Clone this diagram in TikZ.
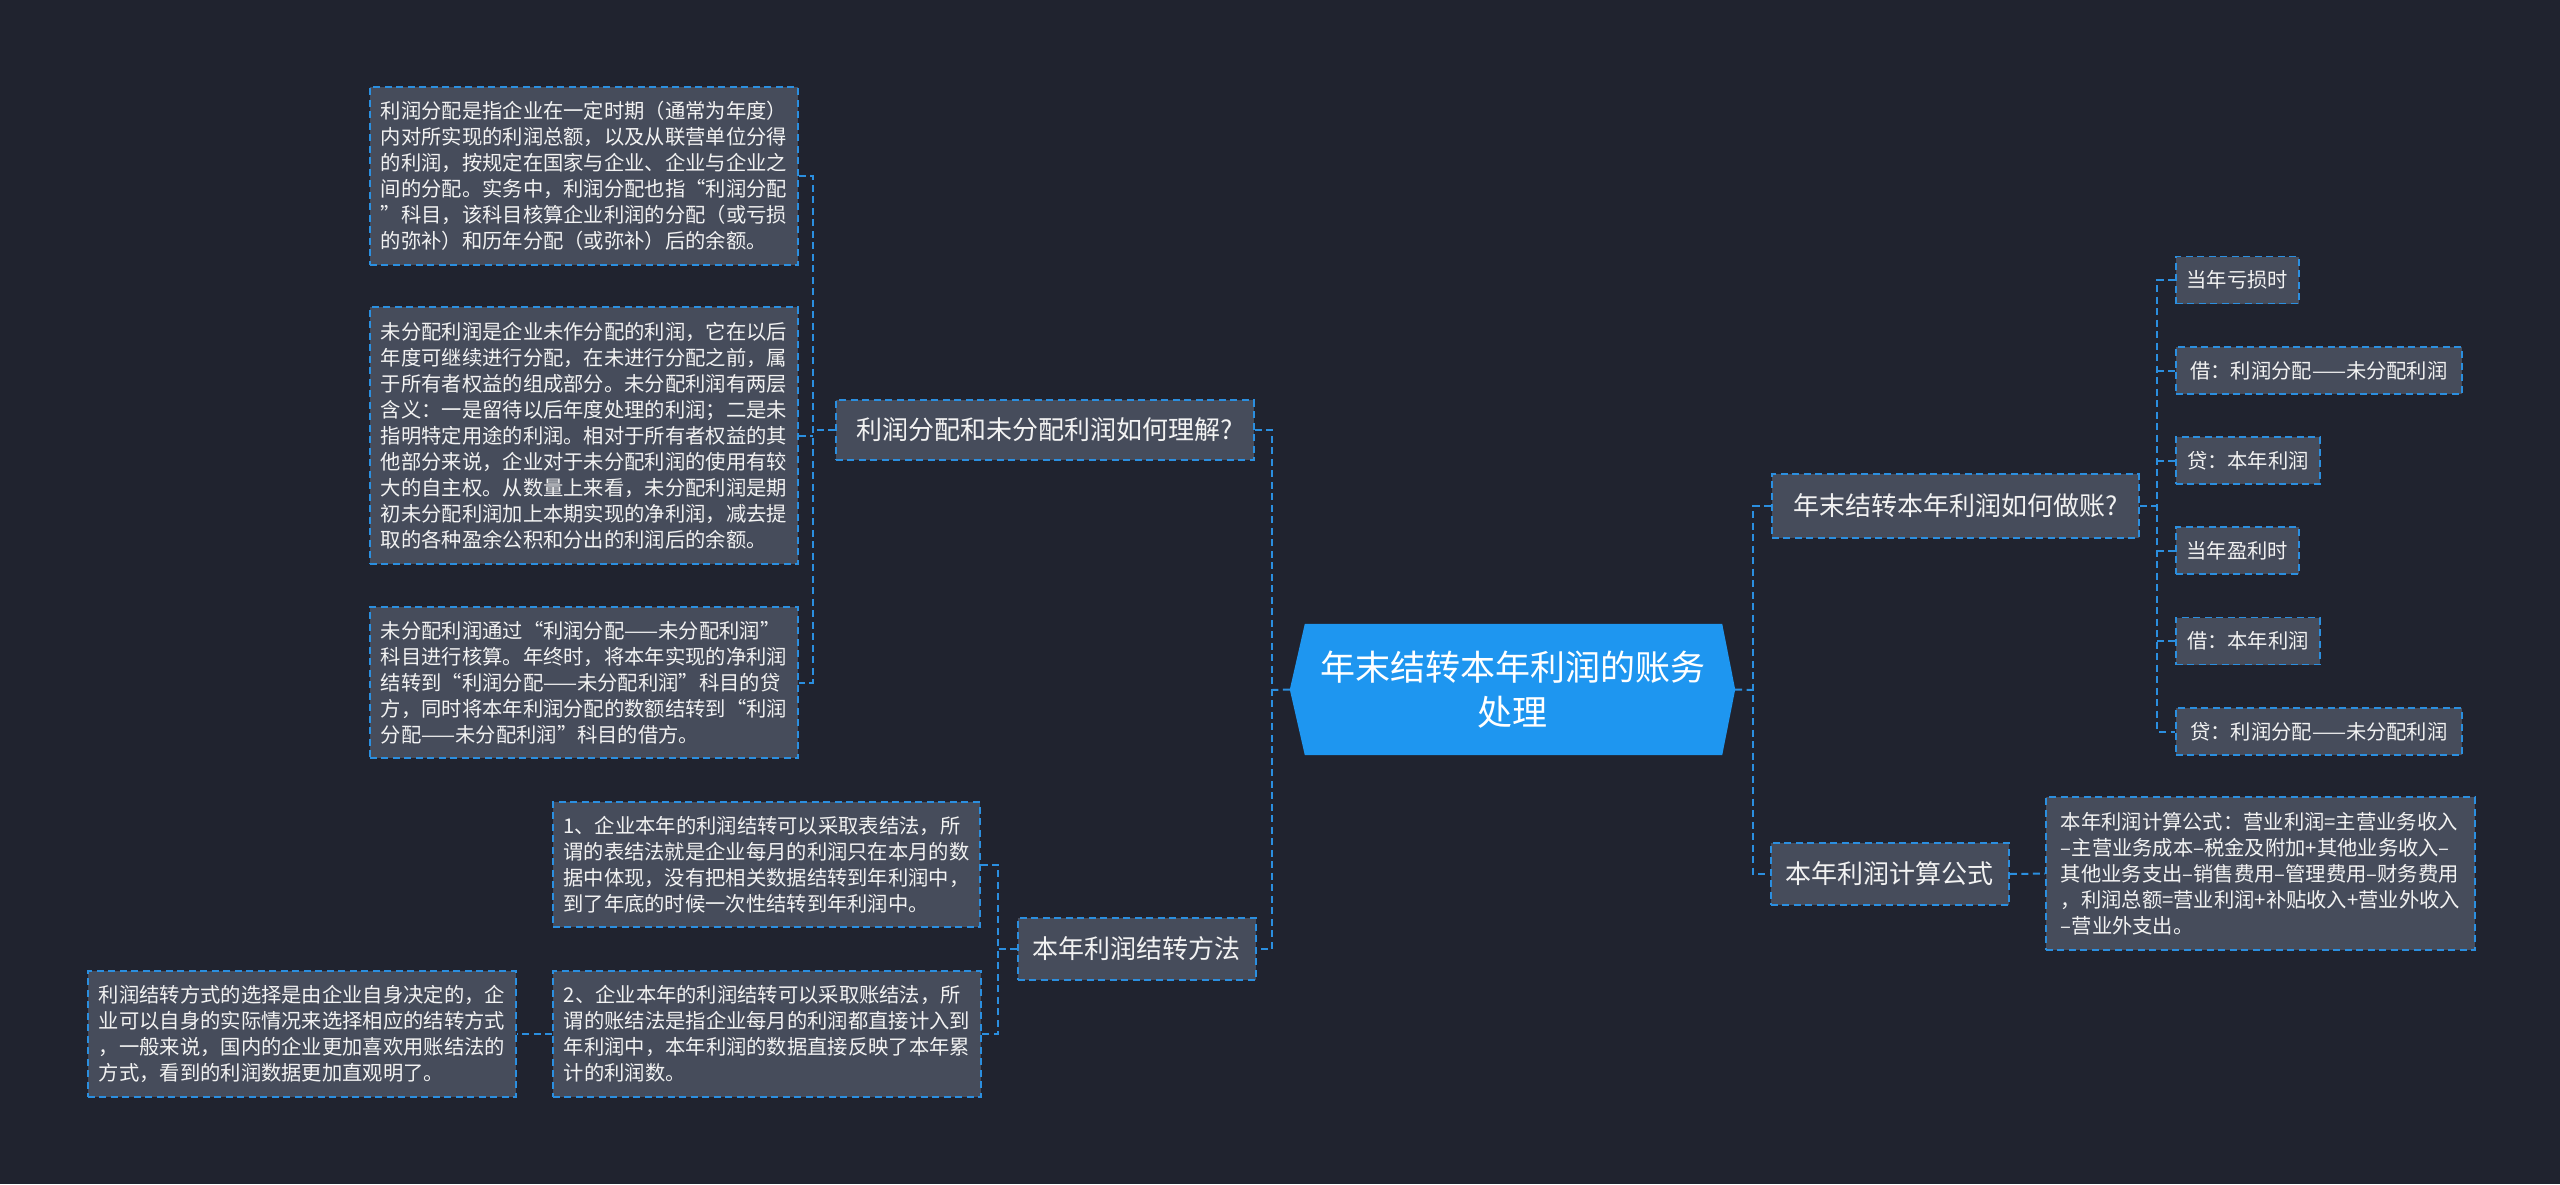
\documentclass[tikz,border=0pt]{standalone}
\usepackage{fontspec}
\newfontfamily\cjk{Noto Sans CJK SC}
\usetikzlibrary{backgrounds}
\definecolor{bgc}{HTML}{20232F}
\definecolor{boxc}{HTML}{464C5B}
\definecolor{linec}{HTML}{2B8FE0}
\definecolor{rootc}{HTML}{1E96F0}
\definecolor{txtc}{HTML}{F2F2F2}
\begin{document}
\begin{tikzpicture}[x=1pt,y=-1pt,
  conn/.style={draw=linec, line width=2pt, dash pattern=on 7pt off 4.5pt},
  box/.style={draw=linec, line width=1.8pt, dash pattern=on 7pt off 4.5pt, fill=boxc, text=txtc, anchor=west, inner sep=0pt, align=left},
  leaf/.style={box, font=\cjk\fontsize{20.3}{26}\selectfont},
  mid/.style={box, font=\cjk\fontsize{26}{32}\selectfont, minimum height=62pt},
  small/.style={box, font=\cjk\fontsize{20.3}{26}\selectfont, minimum height=47pt}
]
\useasboundingbox (0,0) rectangle (2560,1184);

% root
\node[font=\cjk\fontsize{35}{45}\selectfont, text=white, align=center, minimum width=445pt, minimum height=131pt, inner sep=0pt] (root) at (1512.5,689.5) {年末结转本年利润的账务\\处理};

% left side level 1
\node[mid, minimum width=418pt, minimum height=60pt] (N1) at (835,430) {利润分配和未分配利润如何理解?};
\node[mid, minimum width=238pt] (N2) at (1017,949) {本年利润结转方法};

% leaves of N1
\node[leaf, minimum width=428pt, minimum height=178pt] (L1) at (369,176) {利润分配是指企业在一定时期（通常为年度）\\内对所实现的利润总额，以及从联营单位分得\\的利润，按规定在国家与企业、企业与企业之\\间的分配。实务中，利润分配也指“利润分配\\”科目，该科目核算企业利润的分配（或亏损\\的弥补）和历年分配（或弥补）后的余额。};
\node[leaf, minimum width=428pt, minimum height=257pt] (L2) at (369,435.5) {未分配利润是企业未作分配的利润，它在以后\\年度可继续进行分配，在未进行分配之前，属\\于所有者权益的组成部分。未分配利润有两层\\含义：一是留待以后年度处理的利润；二是未\\指明特定用途的利润。相对于所有者权益的其\\他部分来说，企业对于未分配利润的使用有较\\大的自主权。从数量上来看，未分配利润是期\\初未分配利润加上本期实现的净利润，减去提\\取的各种盈余公积和分出的利润后的余额。};
\node[leaf, minimum width=428pt, minimum height=151pt] (L3) at (369,682.5) {未分配利润通过“利润分配——未分配利润”\\科目进行核算。年终时，将本年实现的净利润\\结转到“利润分配——未分配利润”科目的贷\\方，同时将本年利润分配的数额结转到“利润\\分配——未分配利润”科目的借方。};

% leaves of N2
\node[leaf, minimum width=427pt, minimum height=125pt] (B1) at (552,864.5) {1、企业本年的利润结转可以采取表结法，所\\谓的表结法就是企业每月的利润只在本月的数\\据中体现，没有把相关数据结转到年利润中，\\到了年底的时候一次性结转到年利润中。};
\node[leaf, minimum width=428pt, minimum height=126pt] (B2) at (552,1034) {2、企业本年的利润结转可以采取账结法，所\\谓的账结法是指企业每月的利润都直接计入到\\年利润中，本年利润的数据直接反映了本年累\\计的利润数。};
\node[leaf, minimum width=428pt, minimum height=126pt] (B3) at (87,1034) {利润结转方式的选择是由企业自身决定的，企\\业可以自身的实际情况来选择相应的结转方式\\，一般来说，国内的企业更加喜欢用账结法的\\方式，看到的利润数据更加直观明了。};

% right side level 1
\node[mid, minimum width=367pt, minimum height=64pt] (R1) at (1771,506) {年末结转本年利润如何做账?};
\node[mid, minimum width=238pt] (R2) at (1770,874) {本年利润计算公式};

% children of R1
\node[small, minimum width=123pt] (C1) at (2175,280) {当年亏损时};
\node[small, minimum width=286pt] (C2) at (2175,370.5) {借：利润分配——未分配利润};
\node[small, minimum width=144pt] (C3) at (2175,460.5) {贷：本年利润};
\node[small, minimum width=123pt] (C4) at (2175,550.5) {当年盈利时};
\node[small, minimum width=144pt] (C5) at (2175,641) {借：本年利润};
\node[small, minimum width=286pt] (C6) at (2175,731.5) {贷：利润分配——未分配利润};

% child of R2
\node[leaf, minimum width=429pt, minimum height=153pt] (F) at (2045,873.5) {本年利润计算公式：营业利润=主营业务收入\\–主营业务成本–税金及附加+其他业务收入–\\其他业务支出–销售费用–管理费用–财务费用\\，利润总额=营业利润+补贴收入+营业外收入\\–营业外支出。};

% trunk coordinates
\coordinate (tkL) at (1272,690);
\coordinate (tkR) at (1753,690);
\coordinate (tkA) at (813,430);
\coordinate (tkB) at (998,949);
\coordinate (tkC) at (2157,506);

% connectors
\draw[conn] (root.west) -- (tkL);
\draw[conn] (N1.east) -- (N1.east -| tkL) -- (N2.east -| tkL) -- (N2.east);
\draw[conn] (root.east) -- (tkR);
\draw[conn] (R1.west) -- (R1.west -| tkR) -- (R2.west -| tkR) -- (R2.west);

\draw[conn] (N1.west) -- (tkA);
\draw[conn] (L1.east) -- (L1.east -| tkA) -- (L3.east -| tkA) -- (L3.east);
\draw[conn] (L2.east) -- (L2.east -| tkA);

\draw[conn] (N2.west) -- (tkB);
\draw[conn] (B1.east) -- (B1.east -| tkB) -- (B2.east -| tkB) -- (B2.east);
\draw[conn] (B2.west) -- (B3.east);

\draw[conn] (R1.east) -- (tkC);
\draw[conn] (C1.west) -- (C1.west -| tkC) -- (C6.west -| tkC) -- (C6.west);
\draw[conn] (C2.west) -- (C2.west -| tkC);
\draw[conn] (C3.west) -- (C3.west -| tkC);
\draw[conn] (C4.west) -- (C4.west -| tkC);
\draw[conn] (C5.west) -- (C5.west -| tkC);

\draw[conn] (R2.east) -- (F.west);

\begin{scope}[on background layer]
\fill[bgc] (0,0) rectangle (2560,1184);
\fill[rootc] (root.west) -- ([xshift=15pt]root.north west) -- ([xshift=-13pt]root.north east) -- (root.east) -- ([xshift=-13pt]root.south east) -- ([xshift=15pt]root.south west) -- cycle;
\end{scope}
\end{tikzpicture}
\end{document}
